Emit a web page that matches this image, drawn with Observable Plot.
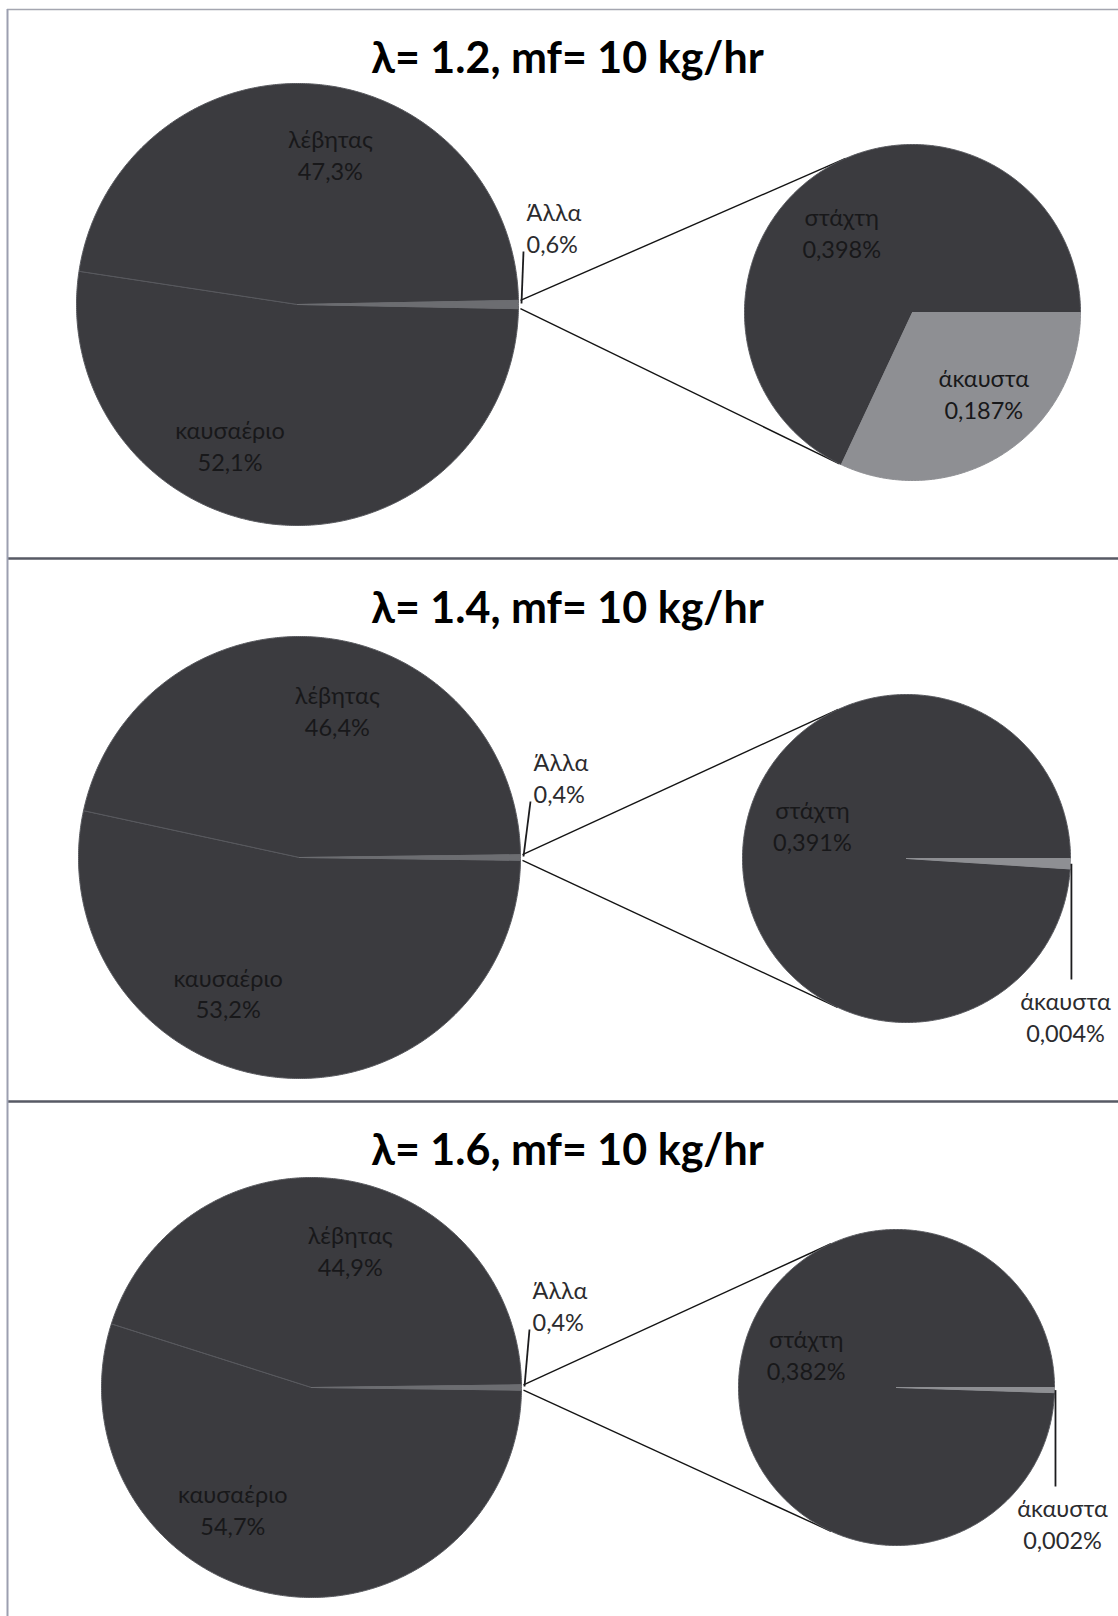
<!DOCTYPE html>
<html>
<head>
<meta charset="utf-8">
<script src="https://cdn.jsdelivr.net/npm/d3@7"></script>
<script src="https://cdn.jsdelivr.net/npm/@observablehq/plot@0.6"></script>
<style>
  html, body { margin: 0; padding: 0; background: #ffffff; }
  #chart svg { display: block; }
</style>
</head>
<body>
<div id="chart"></div>
<script>
// Heat balance of the boiler at three excess-air ratios (fuel flow 10 kg/hr),
// drawn as pie-of-pie charts: the small "Άλλα" share is split into ash and unburnt fuel.

const titles = ["λ= 1.2, mf= 10 kg/hr", "λ= 1.4, mf= 10 kg/hr", "λ= 1.6, mf= 10 kg/hr"];
const mainCategories = ["Άλλα", "καυσαέριο", "λέβητας"];
const subCategories = ["άκαυστα", "στάχτη"];
const boiler  = [47.3, 46.4, 44.9];     // λέβητας, %
const fluegas = [52.1, 53.2, 54.7];     // καυσαέριο, %
const others  = [0.6, 0.4, 0.4];        // Άλλα, %
const ash     = [0.398, 0.391, 0.382];  // στάχτη, %
const unburnt = [0.187, 0.004, 0.002];  // άκαυστα, %

// ---- page geometry (pixels) ----
const W = 1118, H = 1616;
const frame = {left: 7, top: 9, separators: [558, 1101]};
const layout = [
  {titleY: 59,   big: {cx: 297, cy: 304,  r: 221}, small: {cx: 912, cy: 312,  r: 168}},
  {titleY: 609,  big: {cx: 299, cy: 857,  r: 221}, small: {cx: 906, cy: 858,  r: 164}},
  {titleY: 1151, big: {cx: 311, cy: 1387, r: 210}, small: {cx: 896, cy: 1387, r: 158}}
];
// label placement: angular shift from the slice's mid-angle (deg) and radius fraction
const insidePlacement = [
  {"λέβητας": [8.5, 0.70], "καυσαέριο": [20.8, 0.705], "στάχτη": [-8.7, 0.64], "άκαυστα": [-9.1, 0.64]},
  {"λέβητας": [8.6, 0.69], "καυσαέριο": [21.4, 0.69],  "στάχτη": [18.1, 0.61]},
  {"λέβητας": [7.3, 0.68], "καυσαέριο": [23.7, 0.69],  "στάχτη": [19.5, 0.61]}
];
// outside labels: offset of the text from the slice's rim point
const otherLabelOffset = [[8, -78], [13, -81], [11, -83]];
const unburntOutside = [null, [-5, 157], [8, 135]];

const colors = {main: "#3b3b3f", other: "#6c6d71", unburnt: "#8e8f93", edge: "#58595e"};
const fontFamily = "Lato, 'Open Sans', sans-serif";

const pct1 = v => d3.format(".1f")(v).replace(".", ",") + "%";
const pct3 = v => d3.format(".3f")(v).replace(".", ",") + "%";
const rad = Math.PI / 180;

// screen angle (deg, clockwise from 3 o'clock) from a d3.pie angle (rad, clockwise from 12 o'clock)
const screenDeg = a => a / rad - 90;
const polar = (c, aDeg, rr) => [c.cx + rr * Math.cos(aDeg * rad), c.cy + rr * Math.sin(aDeg * rad)];

const slicePts = [];   // polygon vertices of every slice
const labels = [];     // text labels
const leaders = [];    // label leader lines
const connectors = []; // tangent lines from the "Άλλα" slice to the secondary pie

titles.forEach((title, i) => {
  const L = layout[i];
  // primary pie: "Άλλα" centred on the 3 o'clock direction
  const oRad = others[i] / (others[i] + fluegas[i] + boiler[i]) * 2 * Math.PI;
  const mainArcs = d3.pie().sort(null)
    .startAngle(Math.PI / 2 - oRad / 2).endAngle(Math.PI / 2 - oRad / 2 + 2 * Math.PI)
    ([others[i], fluegas[i], boiler[i]]);
  // secondary pie: "άκαυστα" starts at 3 o'clock
  const subArcs = d3.pie().sort(null)
    .startAngle(Math.PI / 2).endAngle(Math.PI / 2 + 2 * Math.PI)
    ([unburnt[i], ash[i]]);

  const addSlice = (c, arc, id, kind) => {
    const a0 = screenDeg(arc.startAngle), a1 = screenDeg(arc.endAngle);
    const n = Math.max(2, Math.ceil((a1 - a0) / 0.5));
    slicePts.push({id, kind, x: c.cx, y: c.cy});
    for (let k = 0; k <= n; k++) {
      const [x, y] = polar(c, a0 + (a1 - a0) * k / n, c.r);
      slicePts.push({id, kind, x, y});
    }
    slicePts.push({id, kind, x: c.cx, y: c.cy});
    return (a0 + a1) / 2;
  };

  mainArcs.forEach((arc, k) => {
    const name = mainCategories[k];
    const mid = addSlice(L.big, arc, `m${i}-${k}`, name === "Άλλα" ? "other" : "main");
    if (name === "Άλλα") {
      const [ox, oy] = otherLabelOffset[i];
      const rim = polar(L.big, mid, L.big.r + 3);
      const tx = L.big.cx + L.big.r + ox, ty = L.big.cy + oy;
      labels.push({x: tx, y: ty, text: `${name}\n${pct1(others[i])}`, anchor: "start", fill: "#2b2b2e"});
      leaders.push({x1: rim[0], y1: rim[1] - 1, x2: tx - 3, y2: ty + 25});
    } else {
      const [shift, rf] = insidePlacement[i][name];
      const [x, y] = polar(L.big, mid + shift, L.big.r * rf);
      const v = name === "λέβητας" ? boiler[i] : fluegas[i];
      labels.push({x, y, text: `${name}\n${pct1(v)}`, anchor: "middle", fill: "#18181a"});
    }
  });

  subArcs.forEach((arc, k) => {
    const name = subCategories[k];
    const mid = addSlice(L.small, arc, `s${i}-${k}`, name === "άκαυστα" ? "unburnt" : "main");
    const v = name === "άκαυστα" ? unburnt[i] : ash[i];
    if (name === "άκαυστα" && unburntOutside[i]) {
      const [ox, oy] = unburntOutside[i];
      const rim = polar(L.small, mid, L.small.r + 1);
      const tx = L.small.cx + L.small.r + ox, ty = L.small.cy + oy;
      labels.push({x: tx, y: ty, text: `${name}\n${pct3(v)}`, anchor: "middle", fill: "#2b2b2e"});
      leaders.push({x1: rim[0], y1: rim[1], x2: rim[0], y2: ty - 36});
    } else {
      const [shift, rf] = insidePlacement[i][name];
      const [x, y] = polar(L.small, mid + shift, L.small.r * rf);
      labels.push({x, y, text: `${name}\n${pct3(v)}`, anchor: "middle", fill: "#18181a"});
    }
  });

  // connector lines: tangents from the ends of the "Άλλα" slice to the secondary pie
  const oArc = mainArcs[0];
  [oArc.startAngle, oArc.endAngle].forEach((a, k) => {
    const [px, py] = polar(L.big, screenDeg(a), L.big.r);
    const C = L.small;
    const d = Math.hypot(px - C.cx, py - C.cy);
    const phi = Math.atan2(py - C.cy, px - C.cx) / rad;
    const alpha = Math.acos(C.r / d) / rad;
    const [tx, ty] = polar(C, k === 0 ? phi + alpha : phi - alpha, C.r);
    connectors.push({x1: px + 2, y1: py, x2: tx, y2: ty});
  });

  labels.push({x: W / 2 + 8, y: L.titleY, text: title, anchor: "middle", fill: "#000", title: true});
});

const chart = Plot.plot({
  width: W,
  height: H,
  margin: 0,
  x: {domain: [0, W], range: [0, W], axis: null},
  y: {domain: [0, H], range: [0, H], axis: null},
  style: {fontFamily, background: "#ffffff"},
  marks: [
    // panel frame
    Plot.ruleY([frame.top], {x1: frame.left, x2: W, stroke: "#a4a6b0", strokeWidth: 1.5}),
    Plot.ruleY(frame.separators, {x1: frame.left, x2: W, stroke: "#575a65", strokeWidth: 2.5}),
    Plot.ruleX([frame.left], {y1: frame.top, y2: H, stroke: "#9c9fb0", strokeWidth: 2}),
    // connectors
    Plot.link(connectors, {x1: "x1", y1: "y1", x2: "x2", y2: "y2", stroke: "#141414", strokeWidth: 1.4}),
    // slices
    Plot.line(slicePts.filter(d => d.kind === "main"), {x: "x", y: "y", z: "id", fill: colors.main, stroke: colors.edge, strokeWidth: 1}),
    Plot.line(slicePts.filter(d => d.kind === "other"), {x: "x", y: "y", z: "id", fill: colors.other, stroke: colors.other, strokeWidth: 1}),
    Plot.line(slicePts.filter(d => d.kind === "unburnt"), {x: "x", y: "y", z: "id", fill: colors.unburnt, stroke: colors.unburnt, strokeWidth: 1}),
    // leader lines
    Plot.link(leaders, {x1: "x1", y1: "y1", x2: "x2", y2: "y2", stroke: "#1c1c1e", strokeWidth: 1.8}),
    // labels
    Plot.text(labels.filter(d => !d.title && d.anchor === "middle"), {x: "x", y: "y", text: "text", fill: "fill", fontSize: 23.5, lineHeight: 1.36, textAnchor: "middle"}),
    Plot.text(labels.filter(d => !d.title && d.anchor === "start"), {x: "x", y: "y", text: "text", fill: "fill", fontSize: 23.5, lineHeight: 1.36, textAnchor: "start"}),
    Plot.text(labels.filter(d => d.title), {x: "x", y: "y", text: "text", fill: "#000", fontSize: 43, fontWeight: "bold", textAnchor: "middle"})
  ],
  color: {type: "identity"}
});

document.getElementById("chart").append(chart);
</script>
</body>
</html>
